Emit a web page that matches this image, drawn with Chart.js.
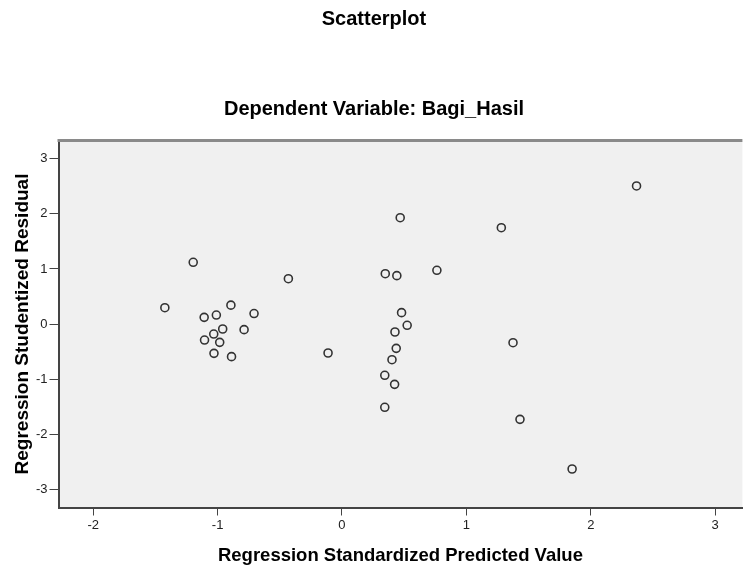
<!DOCTYPE html>
<html><head><meta charset="utf-8">
<script src="https://cdn.jsdelivr.net/npm/chart.js@4/dist/chart.umd.min.js"></script>
<style>html,body{margin:0;padding:0;background:#fff}#wrap{width:748px;height:570px;position:relative}</style>
</head><body><div id="wrap"><canvas id="c" width="748" height="570"></canvas></div>
<script>
// Regression Standardized Predicted Value (x) and Studentized Residual (y)
const predicted = [-1.196, -0.431, -1.424, -0.893, -0.707, -1.108, -1.010, -1.031, -0.959, -0.787, -1.105, -0.983, -1.029, -0.888, -0.112,
                   2.368, 0.468, 1.281, 0.348, 0.441, 0.763, 0.479, 0.524, 0.426, 0.436, 0.402, 0.344, 0.423, 0.344, 1.375, 1.431, 1.850];
const residual  = [1.121, 0.823, 0.296, 0.342, 0.190, 0.121, 0.163, -0.182, -0.091, -0.103, -0.291, -0.333, -0.533, -0.593, -0.527,
                   2.507, 1.931, 1.749, 0.914, 0.878, 0.975, 0.206, -0.024, -0.145, -0.442, -0.648, -0.932, -1.096, -1.513, -0.340, -1.732, -2.634];
const xTicks = [-2, -1, 0, 1, 2, 3];
const yTicks = [-3, -2, -1, 0, 1, 2, 3];
const chartTitle = 'Scatterplot';
const chartSubtitle = 'Dependent Variable: Bagi_Hasil';
const xTitle = 'Regression Standardized Predicted Value';
const yTitle = 'Regression Studentized Residual';

const FAMILY = "'Liberation Sans', Arial, sans-serif";
const points = predicted.map((x, i) => ({x: x, y: residual[i]}));

const plotFrame = {
  id: 'plotFrame',
  beforeDraw(chart) {
    const {ctx, chartArea: a} = chart;
    ctx.save();
    ctx.fillStyle = '#f0f0f0';
    ctx.fillRect(a.left, a.top, a.right - a.left, a.bottom - a.top);
    ctx.restore();
  },
  afterDraw(chart) {
    const {ctx, chartArea: a} = chart;
    ctx.save();
    ctx.strokeStyle = '#8a8a8a';
    ctx.lineWidth = 3;
    ctx.beginPath();
    ctx.moveTo(a.left - 1, a.top);
    ctx.lineTo(a.right, a.top);
    ctx.stroke();
    ctx.restore();
  }
};

new Chart(document.getElementById('c'), {
  type: 'scatter',
  data: {
    datasets: [{
      data: points,
      pointStyle: 'circle',
      pointRadius: 4,
      pointBorderWidth: 1.6,
      borderColor: '#333333',
      backgroundColor: 'rgba(0,0,0,0)',
      pointHoverRadius: 4
    }]
  },
  options: {
    responsive: false,
    animation: false,
    layout: {padding: 0},
    plugins: {
      legend: {display: false},
      tooltip: {enabled: false},
      title: {display: true, text: chartTitle, color: '#000',
        font: {family: FAMILY, size: 20, weight: 'bold'}, padding: {top: 7, bottom: 66}},
      subtitle: {display: true, text: chartSubtitle, color: '#000',
        font: {family: FAMILY, size: 20, weight: 'bold'}, padding: {top: 0, bottom: 19.5}}
    },
    scales: {
      x: {
        type: 'linear', min: -2.279, max: 3.219,
        afterBuildTicks: s => { s.ticks = xTicks.map(v => ({value: v})); },
        afterFit: s => { s.height = 62.5; },
        grid: {display: true, drawOnChartArea: false, drawTicks: true, tickLength: 8, color: '#444', lineWidth: 1},
        border: {display: true, color: '#444', width: 2},
        ticks: {font: {family: FAMILY, size: 13}, color: '#222', padding: 2, maxRotation: 0, autoSkip: false},
        title: {display: true, text: xTitle, color: '#000',
          font: {family: FAMILY, size: 18.5, weight: 'bold'}, padding: {top: 0, bottom: 3}}
      },
      y: {
        type: 'linear', min: -3.333, max: 3.333,
        afterBuildTicks: s => { s.ticks = yTicks.map(v => ({value: v})); },
        afterFit: s => { s.width = 58.5; },
        grid: {display: true, drawOnChartArea: false, drawTicks: true, tickLength: 9, color: '#444', lineWidth: 1},
        border: {display: true, color: '#444', width: 2},
        ticks: {font: {family: FAMILY, size: 13}, color: '#222', padding: 2, autoSkip: false},
        title: {display: true, text: yTitle, color: '#000',
          font: {family: FAMILY, size: 19, weight: 'bold'}, padding: {top: 11, bottom: 0}}
      }
    }
  },
  plugins: [plotFrame]
});
</script>
</body></html>
